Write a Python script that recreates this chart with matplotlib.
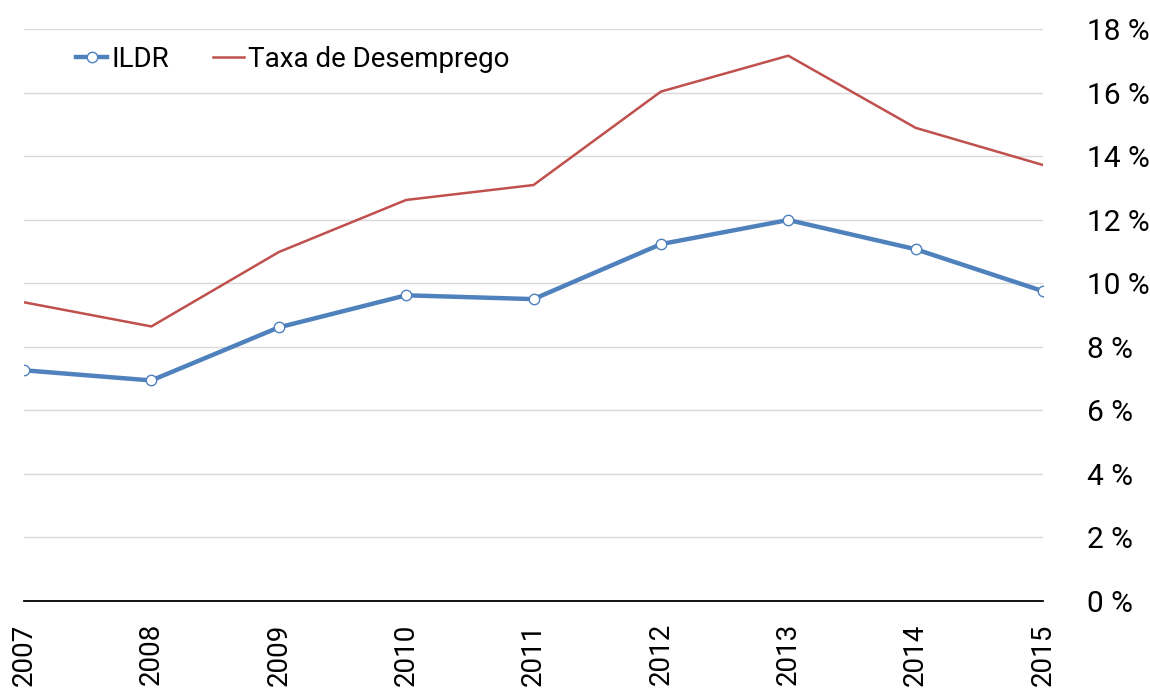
import numpy as np
import matplotlib.pyplot as plt

# Data
years = [2007, 2008, 2009, 2010, 2011, 2012, 2013, 2014, 2015]
ildr = [7.26, 6.94, 8.61, 9.62, 9.50, 11.23, 11.99, 11.07, 9.75]
desemprego = [9.40, 8.64, 10.98, 12.62, 13.09, 16.03, 17.16, 14.89, 13.72]
y_ticks = [0, 2, 4, 6, 8, 10, 12, 14, 16, 18]

blue = '#4F81BD'
red = '#C0504D'

fig = plt.figure(figsize=(11.5, 6.96), dpi=100)
ax = fig.add_axes([24 / 1150, 1 - 601 / 696, (1043 - 24) / 1150, (601 - 29) / 696])

# Series
ax.plot(years, ildr, color=blue, lw=3.2, marker='o', ms=7.5,
        mfc='white', mec=blue, mew=1.0, label='ILDR', zorder=3)
ax.plot(years, desemprego, color=red, lw=1.8, label='Taxa de Desemprego', zorder=2)

# Axes
ax.set_xlim(years[0], years[-1])
ax.set_ylim(0, 18)
ax.set_xticks(years)
ax.set_xticklabels([str(y) for y in years], rotation=90, fontsize=20,
                   family='Roboto', va='top')
ax.set_yticks(y_ticks)
ax.set_yticklabels([f'{v} %' for v in y_ticks], fontsize=21.5, family='Roboto')
ax.yaxis.tick_right()
ax.tick_params(axis='y', length=0, pad=32)
ax.tick_params(axis='x', length=0, pad=16)
for lbl in ax.get_yticklabels():
    lbl.set_horizontalalignment('left')

ax.grid(axis='y', color='#d9d9d9', lw=1.0)
ax.set_axisbelow(True)
for side in ['top', 'left', 'right']:
    ax.spines[side].set_visible(False)
ax.spines['bottom'].set_color('black')
ax.spines['bottom'].set_linewidth(1.3)

# Legend
leg = ax.legend(loc='upper left', bbox_to_anchor=(0.035, 1.0), ncol=2, frameon=False,
                prop={'family': 'Roboto', 'size': 20}, handlelength=1.1,
                handletextpad=0.15, columnspacing=1.6, borderaxespad=0.2)

fig.savefig('out.png', dpi=100)
